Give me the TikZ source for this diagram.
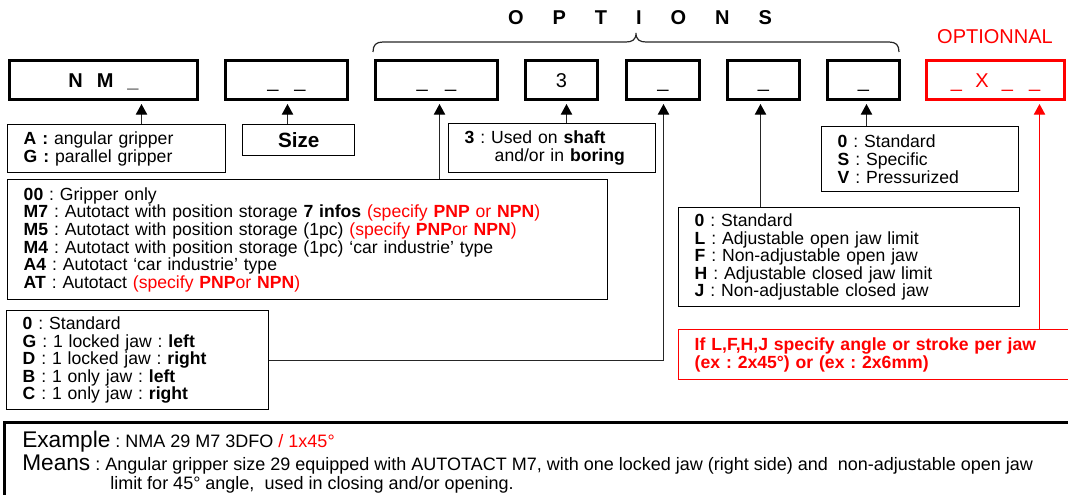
\documentclass[tikz,border=0pt]{standalone}
\usepackage{fontspec}
\setmainfont{Liberation Sans}
\usetikzlibrary{calc,arrows.meta}
\definecolor{rd}{RGB}{255,0,0}
\newcommand\dfont{\fontsize{13.2pt}{13.2pt}\selectfont\frenchspacing}
\newcommand\mfont{\fontsize{13.5pt}{13.5pt}\selectfont\frenchspacing}
\newcommand\bigfont{\fontsize{15pt}{15pt}\selectfont}
\newcommand\exfont{\fontsize{17pt}{17pt}\selectfont}
\begin{document}
\begin{tikzpicture}[x=0.75pt,y=-0.75pt,
  tbox/.style={draw, line width=2.25pt, minimum height=29.25pt, inner sep=0pt, anchor=north west,
    text height=11.25pt, text depth=0pt, font=\bigfont},
  dbox/.style={draw, line width=1.1pt, inner xsep=12pt, inner ysep=0pt, align=left, anchor=north west, font=\dfont},
  conn/.style={line width=0.9pt, black!85, -{Triangle[width=8.5pt,length=8pt,color=black]}},
  rconn/.style={line width=0.9pt, rd, -{Triangle[width=8.5pt,length=8pt]}},
  brc/.style={line width=0.9pt, black!85}]
\useasboundingbox (0,0) rectangle (1068,495);

% title
\node[anchor=base, inner sep=0pt, font=\bigfont\bfseries] (opt) at (640,25)
  {O\hspace{21.75pt}P\hspace{21.75pt}T\hspace{21.75pt}I\hspace{21.75pt}O\hspace{21.75pt}N\hspace{21.75pt}S};
\node[anchor=base, inner sep=0pt, font=\bigfont, text=rd] (optl) at (995,44) {OPTIONNAL};
\draw[brc] (373,52) .. controls (373,45) and (376,42) .. (383,42) -- (626,42)
  .. controls (632,42) and (636,40) .. (636,33) .. controls (636,40) and (640,42) .. (646,42)
  -- (889,42) .. controls (896,42) and (899,45) .. (899,52);

% top code boxes
\node[tbox, minimum width=141pt] (b1) at (8,59) {\bfseries N\hspace{10.5pt}M\hspace{10.5pt}\_};
\node[tbox, minimum width=91.5pt] (b2) at (224,59) {\_\hspace{12pt}\_};
\node[tbox, minimum width=91.5pt] (b3) at (374,59) {\_\hspace{13pt}\_};
\node[tbox, minimum width=54pt] (b4) at (524,59) {3};
\node[tbox, minimum width=54.75pt] (b5) at (625,59) {\_};
\node[tbox, minimum width=54pt] (b6) at (726,59) {\_};
\node[tbox, minimum width=54pt] (b7) at (826,59) {\_};
\node[tbox, minimum width=103.5pt, draw=rd, text=rd] (b8) at (925,59)
  {\_\hspace{10pt}X\hspace{10pt}\_\hspace{12pt}\_};

% description boxes
\node[dbox, text width=139.5pt, minimum height=36pt] (ag) at (7,124)
  {\textbf{A :} angular gripper\\\textbf{G :} parallel gripper};
\node[draw, line width=1.1pt, anchor=north west, minimum width=84pt, minimum height=23.25pt, inner sep=0pt,
  font=\fontsize{15.5pt}{15.5pt}\selectfont\bfseries] (size) at (242,124) {Size};
\node[dbox, text width=131.25pt, minimum height=36.75pt] (three) at (448,123)
  {\textbf{3} : Used on \textbf{shaft}\\\hspace*{22.5pt}and/or in \textbf{boring}};
\node[dbox, text width=426pt, minimum height=90pt] (big) at (7,179)
  {\textbf{00} : Gripper only\\
   \textbf{M7} : Autotact with position storage \textbf{7 infos} \textcolor{rd}{(specify \textbf{PNP} or \textbf{NPN})}\\
   \textbf{M5} : Autotact with position storage (1pc) \textcolor{rd}{(specify \textbf{PNP}or \textbf{NPN})}\\
   \textbf{M4} : Autotact with position storage (1pc) ‘car industrie’ type\\
   \textbf{A4} : Autotact ‘car industrie’ type\\
   \textbf{AT} : Autotact \textcolor{rd}{(specify \textbf{PNP}or \textbf{NPN})}};
\node[dbox, text width=172.5pt, minimum height=74.25pt] (gd) at (6,310)
  {\textbf{0} : Standard\\
   \textbf{G} : 1 locked jaw : \textbf{left}\\
   \textbf{D} : 1 locked jaw : \textbf{right}\\
   \textbf{B} : 1 only jaw : \textbf{left}\\
   \textbf{C} : 1 only jaw : \textbf{right}};
\node[dbox, text width=123.75pt, minimum height=48.75pt] (svb) at (821,126)
  {\textbf{0} : Standard\\\textbf{S} : Specific\\\textbf{V} : Pressurized};
\node[dbox, text width=231.75pt, minimum height=74.25pt] (lf) at (678,207)
  {\textbf{0} : Standard\\
   \textbf{L} : Adjustable open jaw limit\\
   \textbf{F} : Non-adjustable open jaw\\
   \textbf{H} : Adjustable closed jaw limit\\
   \textbf{J} : Non-adjustable closed jaw};
\node[dbox, draw=rd, text=rd, text width=276pt, minimum height=37.5pt, font=\dfont\bfseries] (note) at (678,329)
  {If L,F,H,J specify angle or stroke per jaw\\(ex : 2x45°) or (ex : 2x6mm)};

% arrow tips
\coordinate (c1) at ($(b1.south)+(38,3)$);
\coordinate (c2) at ($(b2.south)+(1,3)$);
\coordinate (c3) at ($(b3.south)+(3,3)$);
\coordinate (c4) at ($(b4.south)+(5,3)$);
\coordinate (c5) at ($(b5.south)+(0.5,3)$);
\coordinate (c6) at ($(b6.south)+(-3,3)$);
\coordinate (c7) at ($(b7.south)+(3,3)$);
\coordinate (c8) at ($(b8.south)+(44,3)$);

\draw[conn] (ag.north -| c1) -- (c1);
\draw[conn] (size.north -| c2) -- (c2);
\draw[conn] (big.north -| c3) -- (c3);
\draw[conn] (three.north -| c4) -- (c4);
\draw[conn] (gd.east) -| (c5);
\draw[conn] (lf.north -| c6) -- (c6);
\draw[conn] (svb.north -| c7) -- (c7);
\draw[rconn] (note.north -| c8) -- (c8);

% example box
\draw[line width=2.25pt] (4,505) -- (4,422) -- (1080,422);
\node[anchor=base west, inner sep=0pt, font=\mfont] (ex) at (22,447)
  {{\exfont Example} : NMA 29 M7 3DFO \textcolor{rd}{/ 1x45°}};
\node[anchor=base west, inner sep=0pt, font=\mfont] (mn) at (22,470)
  {{\exfont Means} : Angular gripper size 29 equipped with AUTOTACT M7, with one locked jaw (right side) and\ \ non-adjustable open jaw};
\node[anchor=base west, inner sep=0pt, font=\mfont] (mn2) at (110,489)
  {limit for 45° angle,\ \ used in closing and/or opening.};
\end{tikzpicture}
\end{document}
